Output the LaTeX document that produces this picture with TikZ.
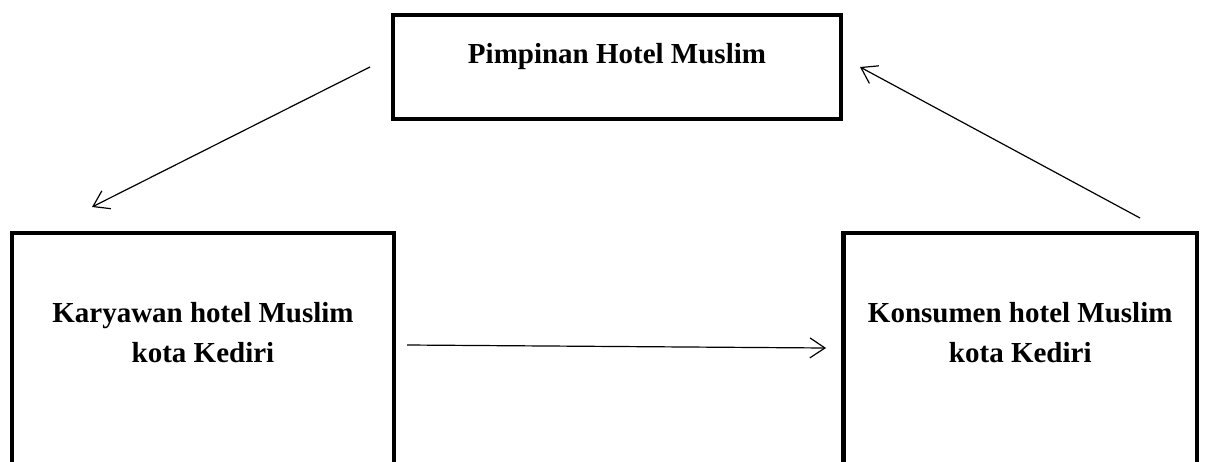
\documentclass[tikz,border=0pt]{standalone}
\usepackage{fontspec}
\setmainfont{Liberation Serif}
\usetikzlibrary{arrows.meta}
\begin{document}
\begin{tikzpicture}[x=1pt,y=-1pt,
  box/.style={draw=black,line width=4.5pt,rectangle,minimum width=#1,inner sep=0pt},
  lbl/.style={font=\fontsize{29}{40}\selectfont\bfseries,align=center,inner sep=0pt},
  arr/.style={line width=1.2pt,-{Straight Barb[length=15pt,width=20pt,line width=1.2pt]}}]
\useasboundingbox (0,0) rectangle (1205,461);
\clip (0,0) rectangle (1205,461);
% top box
\node[box=448pt,minimum height=104pt] (top) at (617,67) {};
\node[lbl,anchor=base] (toptext) at (617,63) {Pimpinan Hotel Muslim};
% left box
\node[box=382pt,minimum height=300pt,anchor=north] (kar) at (203,230.5) {};
\node[lbl] (kartext) at (203,333) {Karyawan hotel Muslim\\kota Kediri};
% right box
\node[box=353.5pt,minimum height=300pt,anchor=north] (kon) at (1020.25,230.5) {};
\node[lbl] (kontext) at (1020.25,333) {Konsumen hotel Muslim\\kota Kediri};
% arrow endpoints
\coordinate (a1s) at (370,67);
\coordinate (a1e) at (92,207);
\coordinate (a2s) at (1140,218);
\coordinate (a2e) at (860,67);
\coordinate (a3s) at (407,345);
\coordinate (a3e) at (826,348);
\draw[arr] (a1s) -- (a1e);
\draw[arr] (a2s) -- (a2e);
\draw[arr] (a3s) -- (a3e);
\end{tikzpicture}
\end{document}
